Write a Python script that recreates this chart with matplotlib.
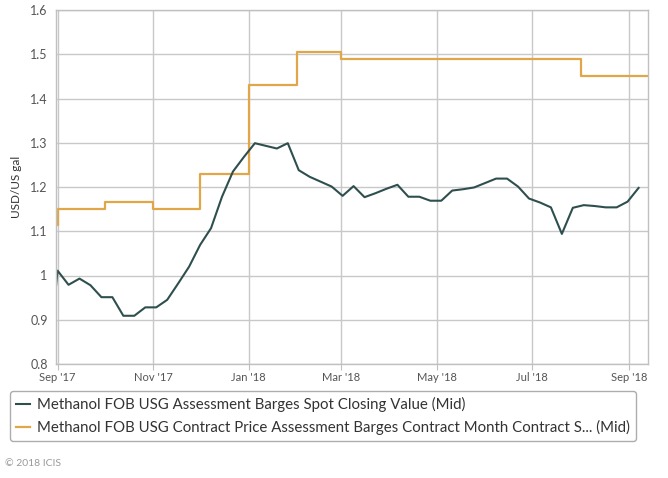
import pandas as pd
import numpy as np
import matplotlib
matplotlib.use("Agg")
import matplotlib.pyplot as plt
import matplotlib.dates as mdates

# spot closing value (weekly, Fridays)
spot_start = "2017-09-01"
spot_values = [1.011, 0.979, 0.993, 0.978, 0.951, 0.951, 0.909, 0.909, 0.928, 0.928,
               0.945, 0.982, 1.020, 1.069, 1.107, 1.178, 1.235, 1.268, 1.299, 1.293,
               1.287, 1.299, 1.238, 1.223, 1.212, 1.201, 1.180, 1.202, 1.177, 1.186,
               1.196, 1.205, 1.178, 1.178, 1.169, 1.169, 1.192, 1.195, 1.199, 1.209,
               1.219, 1.219, 1.201, 1.174, 1.165, 1.154, 1.094, 1.153, 1.159, 1.157,
               1.154, 1.154, 1.167, 1.198]
spot_first_date = "2017-08-31"
spot_first_value = 0.975

# monthly contract price
contract_months = ["2017-08-01", "2017-09-01", "2017-10-01", "2017-11-01", "2017-12-01",
                   "2018-01-01", "2018-02-01", "2018-03-01", "2018-04-01", "2018-05-01",
                   "2018-06-01", "2018-07-01", "2018-08-01", "2018-09-01", "2018-10-01"]
contract_values = [1.115, 1.150, 1.165, 1.150, 1.230, 1.430, 1.505, 1.490, 1.490, 1.490,
                   1.490, 1.490, 1.450, 1.450, 1.450]

tick_dates = ["2017-09-01", "2017-11-01", "2018-01-01", "2018-03-01",
              "2018-05-01", "2018-07-01", "2018-09-01"]
y_ticks = [0.8, 0.9, 1.0, 1.1, 1.2, 1.3, 1.4, 1.5, 1.6]
y_labels = ["0.8", "0.9", "1", "1.1", "1.2", "1.3", "1.4", "1.5", "1.6"]

spot_label = "Methanol FOB USG Assessment Barges Spot Closing Value (Mid)"
contract_label = "Methanol FOB USG Contract Price Assessment Barges Contract Month Contract S... (Mid)"

plt.rcParams['font.family'] = ['Lato', 'DejaVu Sans']

spot_x = [pd.Timestamp(spot_first_date)] + list(pd.date_range(spot_start, periods=len(spot_values), freq="7D"))
spot_y = [spot_first_value] + spot_values

fig = plt.figure(figsize=(6.68, 4.78), dpi=100)
W, H = 668, 478
ax = fig.add_axes([56 / W, 1 - 364 / H, (648 - 56) / W, (364 - 10) / H])

#网格
ax.grid(True, color="#c8c8c8", linewidth=1)
ax.set_axisbelow(True)
for s in ax.spines.values():
    s.set_color("#c0c0c0")
    s.set_linewidth(1)

l2, = ax.plot(pd.to_datetime(contract_months), contract_values, drawstyle="steps-post",
              color="#e0a648", linewidth=1.6, label=contract_label)
l1, = ax.plot(spot_x, spot_y, color="#2f4f4f", linewidth=1.5, label=spot_label)

ax.set_xlim(pd.Timestamp("2017-08-31"), pd.Timestamp("2018-09-13"))
ax.set_ylim(0.8, 1.6)
ax.set_xticks(pd.to_datetime(tick_dates))
ax.xaxis.set_major_formatter(mdates.DateFormatter("%b '%y"))
ax.set_yticks(y_ticks)
ax.set_yticklabels(y_labels)
ax.tick_params(axis="x", length=4, color="#c0c0c0", labelsize=8, labelcolor="#555555", pad=2)
ax.tick_params(axis="y", length=0, labelsize=9, labelcolor="#555555", pad=6)
ax.set_ylabel("USD/US gal", fontsize=8.5, color="#333333", labelpad=6)

leg = fig.legend(handles=[l1, l2], loc="upper left", bbox_to_anchor=(10 / W, 1 - 391 / H),
                 frameon=True, fontsize=10.8, handlelength=0.9, handletextpad=0.5,
                 borderpad=0.4, labelspacing=0.55, borderaxespad=0, fancybox=True)
leg.get_frame().set_edgecolor("#999999")
leg.get_frame().set_linewidth(1)
for t in leg.get_texts():
    t.set_color("#333333")

fig.text(5 / W, 1 - 464 / H, "\u00a9 2018 ICIS", fontsize=7.5, color="#999999", va="center")

fig.savefig("out.png", dpi=100)
